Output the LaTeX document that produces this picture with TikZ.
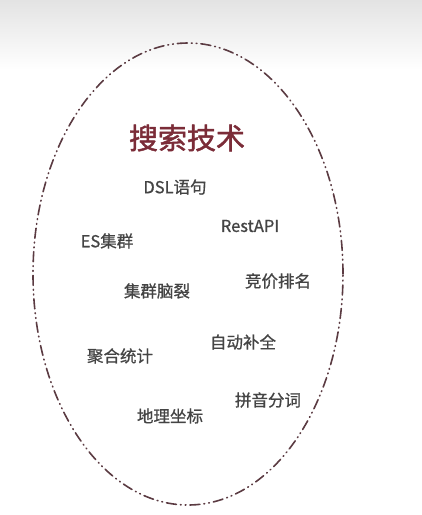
\documentclass[tikz,border=0pt]{standalone}
\usepackage{fontspec}
\newfontfamily\cjk{Noto Sans CJK SC}[FakeBold=0.9]
\newfontfamily\cjktitle{Noto Sans CJK SC}[FakeBold=1.6]
\definecolor{ringcol}{HTML}{5B3B42}
\definecolor{titlecol}{HTML}{7B2C38}
\definecolor{labelcol}{HTML}{444444}

\begin{document}
\begin{tikzpicture}[x=1pt,y=-1pt,line cap=round,line join=round,
	ring/.style={color=ringcol,line width=1.6pt,dash pattern=on 10pt off 4pt on 0.8pt off 4pt on 0.8pt off 4pt},
	topic/.style={color=titlecol,font=\cjktitle\fontsize{29}{33}\selectfont},
	item/.style={color=labelcol,font=\cjk\fontsize{16.5}{19}\selectfont}]
		\useasboundingbox (0,0) rectangle (422,515);
		\shade [top color=black!11,bottom color=white] (0,0) rectangle (422,70);
		\draw [ring] (188,274) ellipse [x radius=155pt,y radius=231pt];
		\node [topic] (search) at (187,138) {搜索技术};
		\node [item] (dsl) at (175,187) {DSL语句};
		\node [item] (rest) at (250,226) {RestAPI};
		\node [item] (escluster) at (107,241) {ES集群};
		\node [item] (splitbrain) at (157,291) {集群脑裂};
		\node [item] (ranking) at (278,281) {竞价排名};
		\node [item] (complete) at (243,342) {自动补全};
		\node [item] (aggs) at (120,356) {聚合统计};
		\node [item] (pinyin) at (268,400) {拼音分词};
		\node [item] (geo) at (170,416) {地理坐标};
	\end{tikzpicture}
\end{document}
